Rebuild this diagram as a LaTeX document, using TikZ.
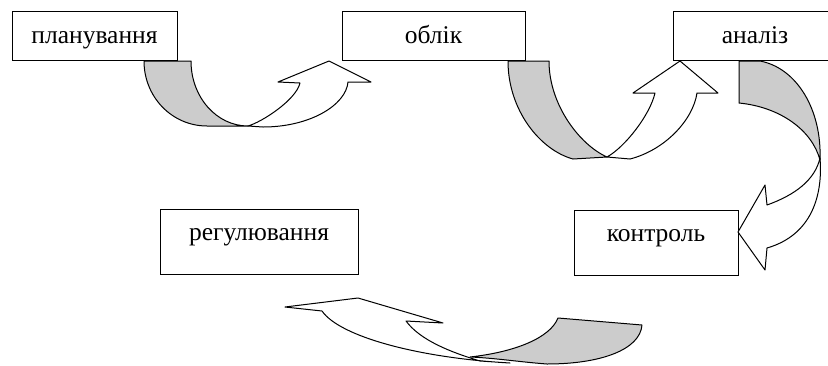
\documentclass[tikz,border=0pt]{standalone}
\usepackage{fontspec}
\setmainfont{Liberation Serif}
\definecolor{bandgray}{RGB}{204,204,204}
\tikzset{
  topbox/.style={draw, line width=1pt, inner sep=0pt, minimum height=49pt,
    text height=18pt, text depth=3pt, font=\fontsize{25.5}{30}\selectfont},
  lowbox/.style={draw, line width=1pt, inner sep=0pt, minimum height=65pt,
    text height=18pt, text depth=21pt, font=\fontsize{25.5}{30}\selectfont},
  bandback/.style={draw, fill=bandgray, line width=1pt, line join=round},
  bandfront/.style={draw, fill=white, line width=1pt, line join=round}
}
\begin{document}
\begin{tikzpicture}[x=1pt, y=-1pt]
\useasboundingbox (0,0) rectangle (828,365);

% boxes
\node[topbox, minimum width=165pt] (plan) at (94.5,35.5) {планування};
\node[topbox, minimum width=183pt] (oblik) at (433.5,35.5) {облік};
\node[topbox, minimum width=164pt] (analiz) at (755,35.5) {аналіз};
\node[lowbox, minimum width=164pt] (kontrol) at (656,242.5) {контроль};
\node[lowbox, minimum width=198pt] (reg) at (259,241.5) {регулювання};

% arrow 1: планування -> облік
\draw[bandfront] (248,126) .. controls (262,122) and (296,100) .. (300,83)
  -- (278,82) -- (329,61) -- (371,82) -- (348,82)
  .. controls (346,105) and (310,127) .. (263,127) -- cycle;
\draw[bandback] (144,61) -- (191,61) .. controls (191,97) and (216.5,126) .. (248,126)
  -- (207,126) .. controls (172,126) and (144,97) .. (144,61) -- cycle;

% arrow 2: облік -> аналіз
\draw[bandfront] (607,157) .. controls (625,147) and (650,115) .. (655,93)
  -- (633,93) -- (680,61) -- (718,93) -- (697,93)
  .. controls (693,120) and (665,150) .. (630,159) -- cycle;
\draw[bandback] (508,61) -- (549,61) .. controls (549,105) and (580,145) .. (607,157)
  -- (573,159) .. controls (540,150) and (508,110) .. (508,61) -- cycle;

% arrow 3: аналіз -> контроль
\draw[bandfront] (820,158) .. controls (823,195) and (812,235) .. (767,248)
  -- (765,270) -- (738,232) -- (765,185) -- (767,205)
  .. controls (795,195) and (815,180) .. (820,158) -- cycle;
\draw[bandback] (739,61) -- (760,61) .. controls (797,68) and (822,110) .. (820,160)
  .. controls (812,130) and (780,107) .. (739,103) -- cycle;

% arrow 4: контроль -> регулювання
\draw[bandfront] (285,307) -- (358,298) -- (443,323) -- (406,321)
  .. controls (420,340) and (450,352) .. (480,361) -- (510,363)
  .. controls (420,358) and (340,337) .. (322,311) -- cycle;
\draw[bandback] (470,357) .. controls (515,352) and (550,338) .. (558,318)
  -- (642,325) .. controls (640,350) and (600,364) .. (547,364)
  .. controls (520,362) and (495,358) .. (470,357) -- cycle;
\end{tikzpicture}
\end{document}
